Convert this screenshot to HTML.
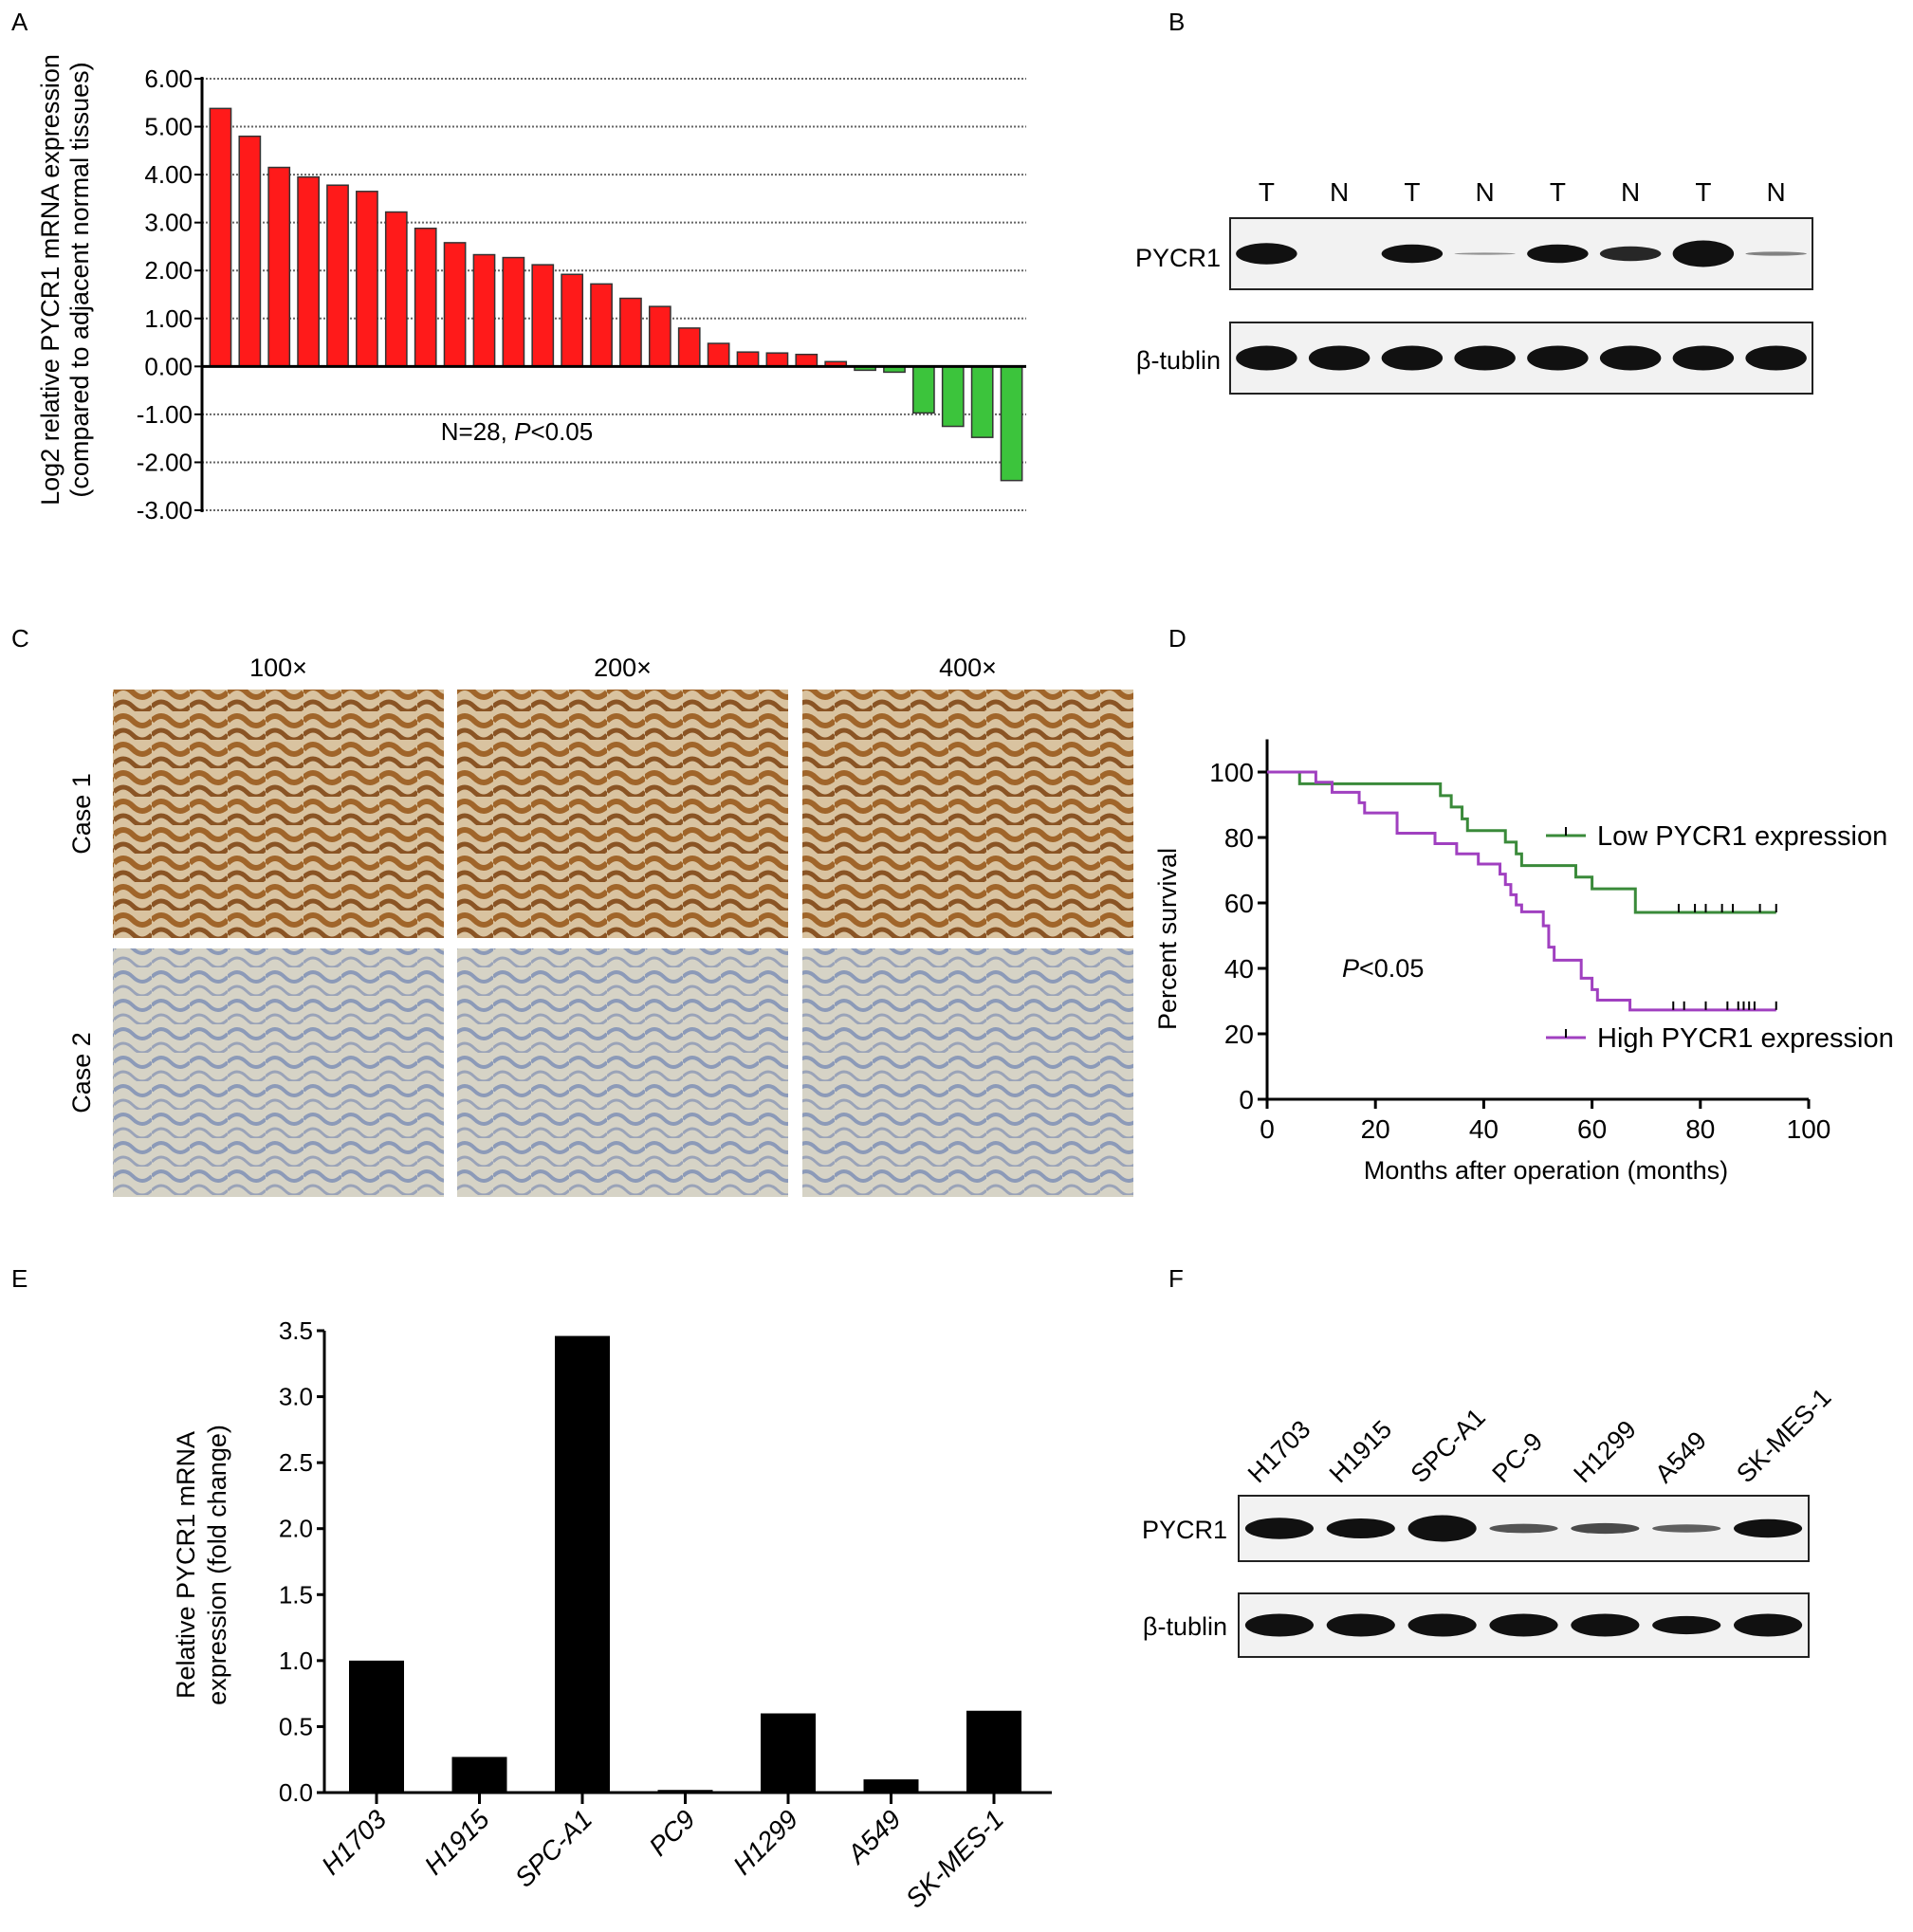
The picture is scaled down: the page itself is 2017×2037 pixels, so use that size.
<!DOCTYPE html>
<html><head><meta charset="utf-8"><style>
html,body{margin:0;padding:0;background:#fff;}
svg{display:block;font-family:"Liberation Sans",Arial,sans-serif;}
</style></head><body>
<svg id="fig" width="2017" height="2037" viewBox="0 0 2017 2037" xmlns="http://www.w3.org/2000/svg">
<defs>
<pattern id="ihcBrown" width="40" height="30" patternUnits="userSpaceOnUse">
<rect width="40" height="30" fill="#d9c3a0"/>
<path d="M0 10 Q10 0 20 10 T40 10" stroke="#a0652a" stroke-width="6" fill="none"/>
<path d="M0 25 Q10 15 20 25 T40 25" stroke="#8a5424" stroke-width="5" fill="none"/>
</pattern>
<pattern id="ihcBlue" width="40" height="30" patternUnits="userSpaceOnUse">
<rect width="40" height="30" fill="#d6d3c6"/>
<path d="M0 10 Q10 0 20 10 T40 10" stroke="#8c9ab8" stroke-width="4" fill="none"/>
<path d="M0 25 Q10 15 20 25 T40 25" stroke="#9aa3b8" stroke-width="3" fill="none"/>
</pattern>
</defs>

<text x="12" y="32" font-size="26">A</text>
<text x="1232" y="32" font-size="26">B</text>
<text x="12" y="682" font-size="26">C</text>
<text x="1232" y="682" font-size="26">D</text>
<text x="12" y="1357" font-size="26">E</text>
<text x="1232" y="1357" font-size="26">F</text>

<g id="chartA"></g>
<g id="blotB"></g>
<g id="ihcC"></g>
<g id="chartD"></g>
<g id="chartE"></g>
<g id="blotF"></g>
</svg>
<script>
const aValues = [5.38,4.80,4.15,3.95,3.78,3.65,3.22,2.88,2.58,2.33,2.27,2.12,1.92,1.72,1.42,1.25,0.80,0.48,0.30,0.28,0.25,0.10,-0.08,-0.12,-0.97,-1.25,-1.48,-2.38];
const aTicks = [6,5,4,3,2,1,0,-1,-2,-3];
const lowTimes = [0,6,32,34,36,37,44,46,47,57,60,68,94];
const lowSurv  = [100,96.4,92.8,89.3,85.7,82.1,78.6,75,71.4,67.9,64.3,57.1,57.1];
const lowCensor = [76,79,81,84,86,91,94];
const highTimes = [0,9,12,17,18,24,31,35,39,43,44,45,46,47,51,52,53,58,60,61,67,94];
const highSurv  = [100,96.9,93.8,90.6,87.5,81.3,78.1,75,71.9,68.8,65.6,62.5,59.4,57.3,53,46.5,42.5,37,33.5,30.3,27.3,27.3];
const highCensor = [75,77,81,85,87,88,89,90,94];
const dTicksX = [0,20,40,60,80,100];
const dTicksY = [0,20,40,60,80,100];
const eCategories = ["H1703","H1915","SPC-A1","PC9","H1299","A549","SK-MES-1"];
const eValues = [1.0,0.27,3.46,0.02,0.60,0.10,0.62];
const eTicks = [0,0.5,1.0,1.5,2.0,2.5,3.0,3.5];
const bLanes = ["T","N","T","N","T","N","T","N"];
const bPycr1 = [0.8,0.05,0.7,0.08,0.7,0.55,1.0,0.15];
const fLanes = ["H1703","H1915","SPC-A1","PC-9","H1299","A549","SK-MES-1"];
const fPycr1 = [0.8,0.75,1.0,0.35,0.4,0.3,0.7];

const NS="http://www.w3.org/2000/svg";
function mk(parent,tag,attrs,text){const e=document.createElementNS(NS,tag);for(const k in attrs)e.setAttribute(k,attrs[k]);if(text!==undefined)e.textContent=text;parent.appendChild(e);return e;}

(function(){
const g=document.getElementById('chartA');
const x0=213,x1=1082,yTop=83,yBot=538;
const ya=v=>yTop+(6-v)*(yBot-yTop)/9;
aTicks.forEach(t=>{
  const y=ya(t);
  if(t!==0){const l=mk(g,'line',{x1:x0,x2:x1,y1:y,y2:y,stroke:'#666','stroke-width':2,'stroke-dasharray':'2,2'});
  
  }
  mk(g,'line',{x1:x0-8,x2:x0,y1:y,y2:y,stroke:'#000','stroke-width':2});
  const tx=mk(g,'text',{x:x0-10,y:y+9,'font-size':26,'text-anchor':'end'},t.toFixed(2));
  
  
});
const n=aValues.length, step=(x1-x0-4)/n, bw=step*0.72;
aValues.forEach((v,i)=>{
  const x=x0+4+i*step+(step-bw)/2;
  const y=Math.min(ya(v),ya(0)), h=Math.abs(ya(v)-ya(0));
  const r=mk(g,'rect',{x:x,y:y,width:bw,height:Math.max(h,1),fill:v>=0?'#ff1a1a':'#3cc43c',stroke:'#333','stroke-width':1.5});
  
  
});
mk(g,'line',{x1:x0,x2:x0,y1:yTop-2,y2:yBot+2,stroke:'#000','stroke-width':3});
mk(g,'line',{x1:x0,x2:x1,y1:ya(0),y2:ya(0),stroke:'#000','stroke-width':3});
const ann=mk(g,'text',{x:545,y:464,'font-size':26,'text-anchor':'middle'});
ann.innerHTML='N=28, <tspan font-style="italic">P</tspan>&lt;0.05';


const yt=mk(g,'text',{transform:'translate(62,295) rotate(-90)','font-size':27,'text-anchor':'middle'},'Log2 relative PYCR1 mRNA expression');


const yt2=mk(g,'text',{transform:'translate(93,295) rotate(-90)','font-size':27,'text-anchor':'middle'},'(compared to adjacent normal tissues)');


})();

function blot(g,x,y,w,h,vals,thick){
  const box=mk(g,'rect',{x:x,y:y,width:w,height:h,fill:'#f2f2f2',stroke:'#222','stroke-width':2});
  
  
  const step=w/vals.length;
  vals.forEach((v,i)=>{
    if(v<0.06)return;
    const cx=x+step*(i+0.5);
    const e=mk(g,'ellipse',{cx:cx,cy:y+h/2,rx:step*0.42,ry:thick*v,fill:'#111',opacity:Math.min(1,0.35+v)});
    
    
  });
}
(function(){
const g=document.getElementById('blotB');
const x=1297,w=614;const step=w/8;
bLanes.forEach((l,i)=>{const t=mk(g,'text',{x:x+step*(i+0.5),y:212,'font-size':28,'text-anchor':'middle'},l);

});
blot(g,x,230,w,75,bPycr1,14);
blot(g,x,340,w,75,[1,1,1,1,1,1,1,1],13);
const a=mk(g,'text',{x:1287,y:281,'font-size':27,'text-anchor':'end'},'PYCR1');

const b=mk(g,'text',{x:1287,y:389,'font-size':27,'text-anchor':'end'},'β-tublin');

})();
(function(){
const g=document.getElementById('blotF');
const x=1306,w=601;const step=w/7;
fLanes.forEach((l,i)=>{const cx=x+step*(i+0.5);
const t=mk(g,'text',{transform:'translate('+(cx-22)+',1565) rotate(-45)','font-size':27},l);

});
blot(g,x,1577,w,69,fPycr1,14);
blot(g,x,1680,w,67,[1,1,1,1,1,0.8,1],12);
const a=mk(g,'text',{x:1294,y:1622,'font-size':27,'text-anchor':'end'},'PYCR1');

const b=mk(g,'text',{x:1294,y:1724,'font-size':27,'text-anchor':'end'},'β-tublin');

})();

(function(){
const g=document.getElementById('ihcC');
const xs=[119,482,846],ys=[727,1000],W=349,H=262;
const mags=["100×","200×","400×"];
xs.forEach((x,i)=>{const t=mk(g,'text',{x:x+W/2,y:713,'font-size':27,'text-anchor':'middle'},mags[i]);
});
["Case 1","Case 2"].forEach((c,j)=>{const t=mk(g,'text',{transform:'translate(95,'+(ys[j]+H/2)+') rotate(-90)','font-size':27,'text-anchor':'middle'},c);
});
ys.forEach((y,j)=>xs.forEach((x,i)=>{
  const r=mk(g,'rect',{x:x,y:y,width:W,height:H,fill:j===0?'url(#ihcBrown)':'url(#ihcBlue)'});
  
  
}));
})();

(function(){
const g=document.getElementById('chartD');
const x0=1336,x1=1907,y0=1159,y1=814;
const xs=v=>x0+v*(x1-x0)/100, ys=v=>y0-v*(y0-y1)/100;
mk(g,'line',{x1:x0,x2:x0,y1:y0,y2:ys(110),stroke:'#000','stroke-width':3});
mk(g,'line',{x1:x0,x2:x1,y1:y0,y2:y0,stroke:'#000','stroke-width':3});
dTicksY.forEach(t=>{mk(g,'line',{x1:x0-10,x2:x0,y1:ys(t),y2:ys(t),stroke:'#000','stroke-width':3});
const l=mk(g,'text',{x:x0-14,y:ys(t)+10,'font-size':28,'text-anchor':'end'},t);
});
dTicksX.forEach(t=>{mk(g,'line',{x1:xs(t),x2:xs(t),y1:y0,y2:y0+10,stroke:'#000','stroke-width':3});
const l=mk(g,'text',{x:xs(t),y:y0+41,'font-size':28,'text-anchor':'middle'},t);
});
function km(times,surv,cens,color,name){
  let d='M'+xs(times[0])+','+ys(surv[0]);
  for(let i=1;i<times.length;i++){d+=' H'+xs(times[i])+' V'+ys(surv[i]);}
  const p=mk(g,'path',{d:d,fill:'none',stroke:color,'stroke-width':3});
  
  
  const last=surv[surv.length-1];
  cens.forEach(c=>{const t=mk(g,'line',{x1:xs(c),x2:xs(c),y1:ys(last)-9,y2:ys(last),stroke:'#000','stroke-width':2});
  });
}
km(lowTimes,lowSurv,lowCensor,'#3a8a3a','low-expression-curve');
km(highTimes,highSurv,highCensor,'#a040c0','high-expression-curve');
function leg(y,color,label,name){
  mk(g,'line',{x1:1630,x2:1672,y1:y,y2:y,stroke:color,'stroke-width':3});
  mk(g,'line',{x1:1651,x2:1651,y1:y-9,y2:y,stroke:'#000','stroke-width':2});
  const t=mk(g,'text',{x:1684,y:y+10,'font-size':29},label);
  
}
leg(881,'#3a8a3a','Low PYCR1 expression','legend-low');
leg(1094,'#a040c0','High PYCR1 expression','legend-high');
const p=mk(g,'text',{x:1415,y:1030,'font-size':27});
p.innerHTML='<tspan font-style="italic">P</tspan>&lt;0.05';

const yt=mk(g,'text',{transform:'translate(1240,990) rotate(-90)','font-size':27,'text-anchor':'middle'},'Percent survival');

const xt=mk(g,'text',{x:1630,y:1243,'font-size':27,'text-anchor':'middle'},'Months after operation (months)');

})();

(function(){
const g=document.getElementById('chartE');
const x0=342,x1=1109,y0=1890,yTop=1403;
const ys=v=>y0-v*(y0-yTop)/3.5;
const step=(1048-397)/6, start=397;
eTicks.forEach(t=>{mk(g,'line',{x1:x0-8,x2:x0,y1:ys(t),y2:ys(t),stroke:'#000','stroke-width':3});
const l=mk(g,'text',{x:x0-12,y:ys(t)+9,'font-size':26,'text-anchor':'end'},t.toFixed(1));
});
eValues.forEach((v,i)=>{
  const cx=start+i*step;
  const r=mk(g,'rect',{x:cx-29,y:ys(v),width:58,height:Math.max(y0-ys(v),2),fill:'#000'});
  
  
  mk(g,'line',{x1:cx,x2:cx,y1:y0,y2:y0+12,stroke:'#000','stroke-width':3});
  const t=mk(g,'text',{transform:'translate('+(cx+12)+','+(y0+30)+') rotate(-45)','font-size':28,'font-style':'italic','text-anchor':'end'},eCategories[i]);
  
});
mk(g,'line',{x1:x0,x2:x0,y1:yTop,y2:y0,stroke:'#000','stroke-width':3});
mk(g,'line',{x1:x0,x2:x1,y1:y0,y2:y0,stroke:'#000','stroke-width':3});
const a=mk(g,'text',{transform:'translate(205,1650) rotate(-90)','font-size':27,'text-anchor':'middle'},'Relative PYCR1 mRNA');

const b=mk(g,'text',{transform:'translate(238,1650) rotate(-90)','font-size':27,'text-anchor':'middle'},'expression (fold change)');

})();
</script>
</body></html>
